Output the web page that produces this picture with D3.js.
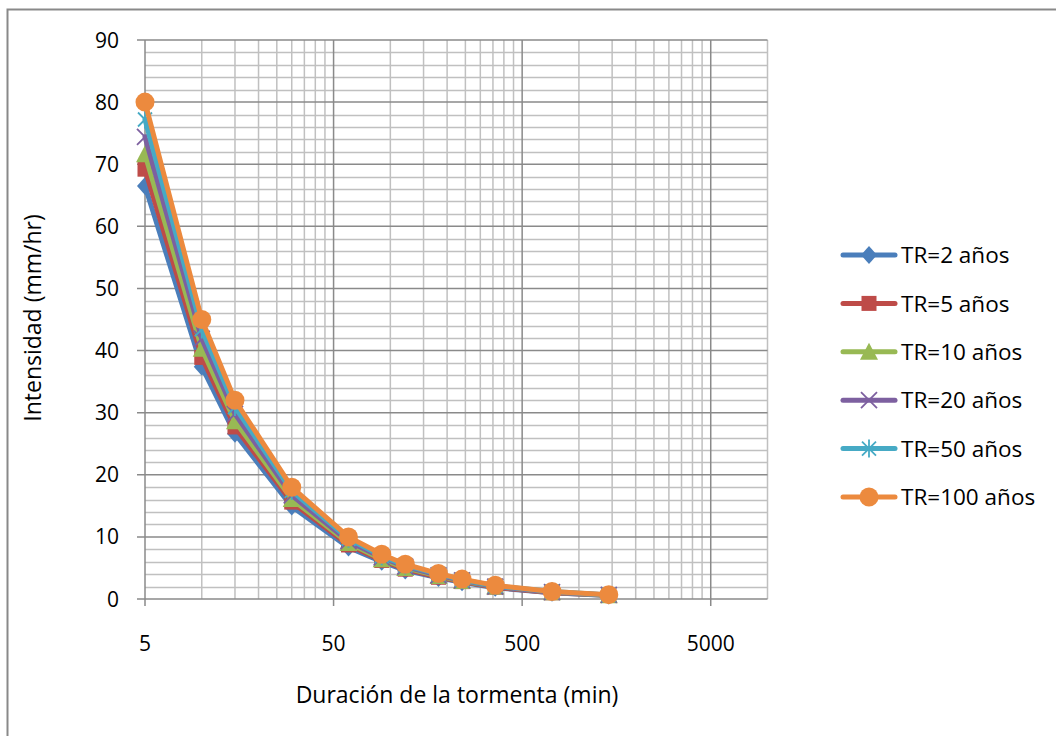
<!DOCTYPE html>
<html><head><meta charset="utf-8">
<script src="https://cdn.jsdelivr.net/npm/d3@7"></script>
<style>body{margin:0;background:#fff}svg{display:block}text{font-family:"Open Sans",sans-serif;fill:#000}</style>
</head><body><svg id="c" width="1056" height="736"></svg>
<script>
const durations = [5, 10, 15, 30, 60, 90, 120, 180, 240, 360, 720, 1440];
const seriesNames = ["TR=2 años","TR=5 años","TR=10 años","TR=20 años","TR=50 años","TR=100 años"];
const tr2   = [66.5, 37.4, 26.6, 14.9, 8.3, 6.0, 4.6, 3.4, 2.7, 1.8, 1.0, 0.55];
const tr5   = [69.2, 38.9, 27.7, 15.6, 8.7, 6.2, 4.8, 3.5, 2.8, 1.9, 1.0, 0.6];
const tr10  = [71.6, 40.3, 28.6, 16.1, 9.0, 6.4, 5.0, 3.7, 2.9, 2.0, 1.1, 0.6];
const tr20  = [74.4, 41.9, 29.8, 16.7, 9.3, 6.7, 5.2, 3.8, 3.0, 2.0, 1.1, 0.65];
const tr50  = [77.2, 43.4, 30.9, 17.4, 9.7, 6.9, 5.4, 4.0, 3.1, 2.1, 1.2, 0.65];
const tr100 = [80.0, 45.0, 32.0, 18.0, 10.0, 7.2, 5.6, 4.1, 3.2, 2.2, 1.2, 0.7];
const xTicks = [5, 50, 500, 5000];
const yTicks = [0,10,20,30,40,50,60,70,80,90];
const xTitle = "Duración de la tormenta (min)";
const yTitle = "Intensidad (mm/hr)";

const allSeries = [tr2,tr5,tr10,tr20,tr50,tr100];
const colors = ["#4A7EBB","#BE4B48","#98B954","#7D60A0","#46AAC5","#EC8A3E"];
const markers = ["diamond","square","triangle","x","asterisk","circle"];

const svg = d3.select("#c");
svg.append("rect").attr("x",7.5).attr("y",9.5).attr("width",1100).attr("height",800)
  .attr("fill","#fff").attr("stroke","#898989").attr("stroke-width",2);

const x = d3.scaleLog().domain([5,10000]).range([145,767.5]);
const y = d3.scaleLinear().domain([0,90]).range([599,40]);

const g = svg.append("g");
for (let v=0; v<=90; v+=2) {
  if (v%10===0) continue;
  g.append("line").attr("x1",145).attr("x2",767.5).attr("y1",Math.round(y(v))+0.5).attr("y2",Math.round(y(v))+0.5)
    .attr("stroke","#c0c0c0").attr("stroke-width",1.5);
}
xTicks.forEach(b=>{
  for (let m=2;m<=9;m++){ const v=b*m; if (v>10000) continue;
    g.append("line").attr("x1",x(v)).attr("x2",x(v)).attr("y1",40).attr("y2",599)
      .attr("stroke","#c0c0c0").attr("stroke-width",1.5);
  }
});
yTicks.forEach(v=>{
  g.append("line").attr("x1",137).attr("x2",767.5).attr("y1",y(v)).attr("y2",y(v))
    .attr("stroke","#8a8a8a").attr("stroke-width",1.5);
});
xTicks.forEach(v=>{
  g.append("line").attr("x1",x(v)).attr("x2",x(v)).attr("y1",40).attr("y2",606)
    .attr("stroke","#8a8a8a").attr("stroke-width",1.5);
});

yTicks.forEach(v=>{
  svg.append("text").attr("x",119).attr("y",y(v)).attr("dy","0.36em").attr("text-anchor","end")
    .attr("font-size",21).text(v);
});
xTicks.forEach(v=>{
  svg.append("text").attr("x",x(v)).attr("y",643).attr("dy","0.36em").attr("text-anchor","middle")
    .attr("font-size",21).text(v);
});
svg.append("text").attr("x",457).attr("y",695).attr("dy","0.36em").attr("text-anchor","middle")
  .attr("font-size",23).text(xTitle);
svg.append("text").attr("transform","translate(33,318) rotate(-90)").attr("dy","0.36em").attr("text-anchor","middle")
  .attr("font-size",23).text(yTitle);

function drawMarker(sel, type, color, cx, cy){
  const p = sel.append("g").attr("transform",`translate(${cx},${cy})`);
  if (type==="diamond") p.append("path").attr("d","M0,-9L8,0L0,9L-8,0Z").attr("fill",color);
  else if (type==="square") p.append("rect").attr("x",-7.5).attr("y",-7.5).attr("width",15).attr("height",15).attr("fill",color);
  else if (type==="triangle") p.append("path").attr("d","M0,-9L9,8L-9,8Z").attr("fill",color);
  else if (type==="x") p.append("path").attr("d","M-8,-8L8,8M-8,8L8,-8").attr("stroke",color).attr("stroke-width",1.8).attr("fill","none");
  else if (type==="asterisk") p.append("path").attr("d","M-7,-7L7,7M-7,7L7,-7M0,-9L0,9").attr("stroke",color).attr("stroke-width",1.8).attr("fill","none");
  else if (type==="circle") p.append("circle").attr("r",9.5).attr("fill",color);
}

const line = d3.line().x(d=>x(d[0])).y(d=>y(d[1]));
allSeries.forEach((s,i)=>{
  const pts = durations.map((d,j)=>[d,s[j]]);
  const sg = svg.append("g");
  sg.append("path").datum(pts).attr("d",line).attr("fill","none").attr("stroke",colors[i])
    .attr("stroke-width",5).attr("stroke-linejoin","round").attr("stroke-linecap","round");
  pts.forEach(p=>drawMarker(sg, markers[i], colors[i], x(p[0]), y(p[1])));
});

seriesNames.forEach((n,i)=>{
  const ly = 255 + i*48.4;
  const lg = svg.append("g");
  lg.append("line").attr("x1",843).attr("x2",895).attr("y1",ly).attr("y2",ly).attr("stroke",colors[i])
    .attr("stroke-width",5).attr("stroke-linecap","round");
  drawMarker(lg, markers[i], colors[i], 869, ly);
  lg.append("text").attr("x",901).attr("y",ly).attr("dy","0.36em").attr("font-size",22.5).text(n);
});
</script></body></html>
